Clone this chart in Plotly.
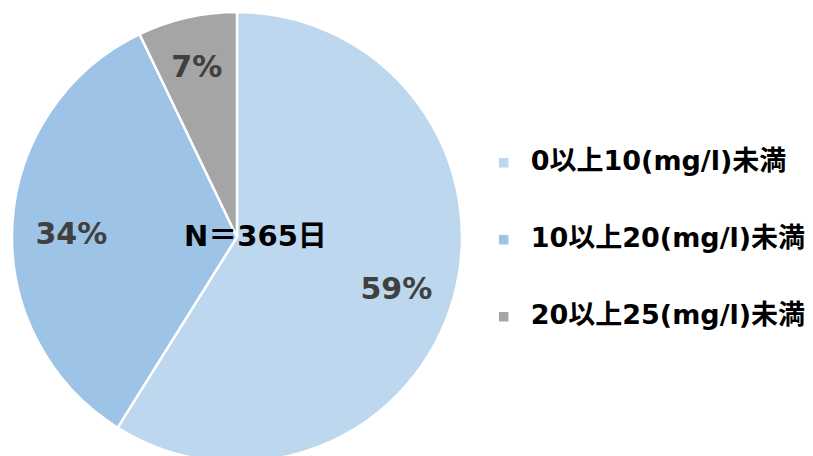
import plotly.graph_objects as go

# 水質データ（日数, N=365）
labels = ["0以上10(mg/l)未満", "10以上20(mg/l)未満", "20以上25(mg/l)未満"]
days = [215, 124, 26]
colors = ["#BDD7EE", "#9DC3E6", "#A5A5A5"]
center_text = "N＝365日"

font_jp = "DejaVu Sans, Noto Sans CJK JP, sans-serif"

# legend rows are spaced wide in the original, pad with blank lines
legend_labels = ["<br><span style='font-size:27px'><b>" + s + "</b></span><br>" for s in labels]

pie_domain = dict(x=[0.0049, 0.5584], y=[0.0044, 0.9912])
# label ring sits a few px lower than the pie itself
ring_domain = dict(x=[0.0049, 0.5584], y=[0.0, 0.97])

fig = go.Figure()
fig.add_trace(go.Pie(
    labels=legend_labels,
    values=days,
    sort=False,
    direction="clockwise",
    rotation=0,
    marker=dict(colors=colors, line=dict(color="white", width=2.5)),
    textinfo="none",
    hovertemplate="%{value}日<extra></extra>",
    domain=pie_domain,
))

# transparent ring on top, only to push the % labels out toward the rim
fig.add_trace(go.Pie(
    labels=legend_labels,
    values=days,
    sort=False,
    direction="clockwise",
    rotation=0,
    hole=0.5,
    showlegend=False,
    hoverinfo="skip",
    marker=dict(colors=["rgba(0,0,0,0)"] * 3, line=dict(width=0)),
    texttemplate="<b>%{percent:.0%}</b>",
    textposition="inside",
    insidetextorientation="horizontal",
    textfont=dict(family=font_jp, size=30, color="#404040"),
    domain=ring_domain,
))

fig.add_annotation(
    x=0.304, y=0.5, xref="paper", yref="paper",
    xanchor="center", yanchor="middle",
    text="<b>" + center_text + "</b>", showarrow=False,
    font=dict(family=font_jp, size=29, color="#000000"),
)

fig.update_layout(
    width=813, height=456,
    margin=dict(l=0, r=0, t=0, b=0),
    paper_bgcolor="white",
    showlegend=True,
    legend=dict(
        x=0.5765, y=0.491, xanchor="left", yanchor="middle",
        font=dict(family=font_jp, size=19, color="#000000"),
        itemwidth=44,
        bgcolor="rgba(0,0,0,0)",
    ),
)

fig.write_html("out.html")
